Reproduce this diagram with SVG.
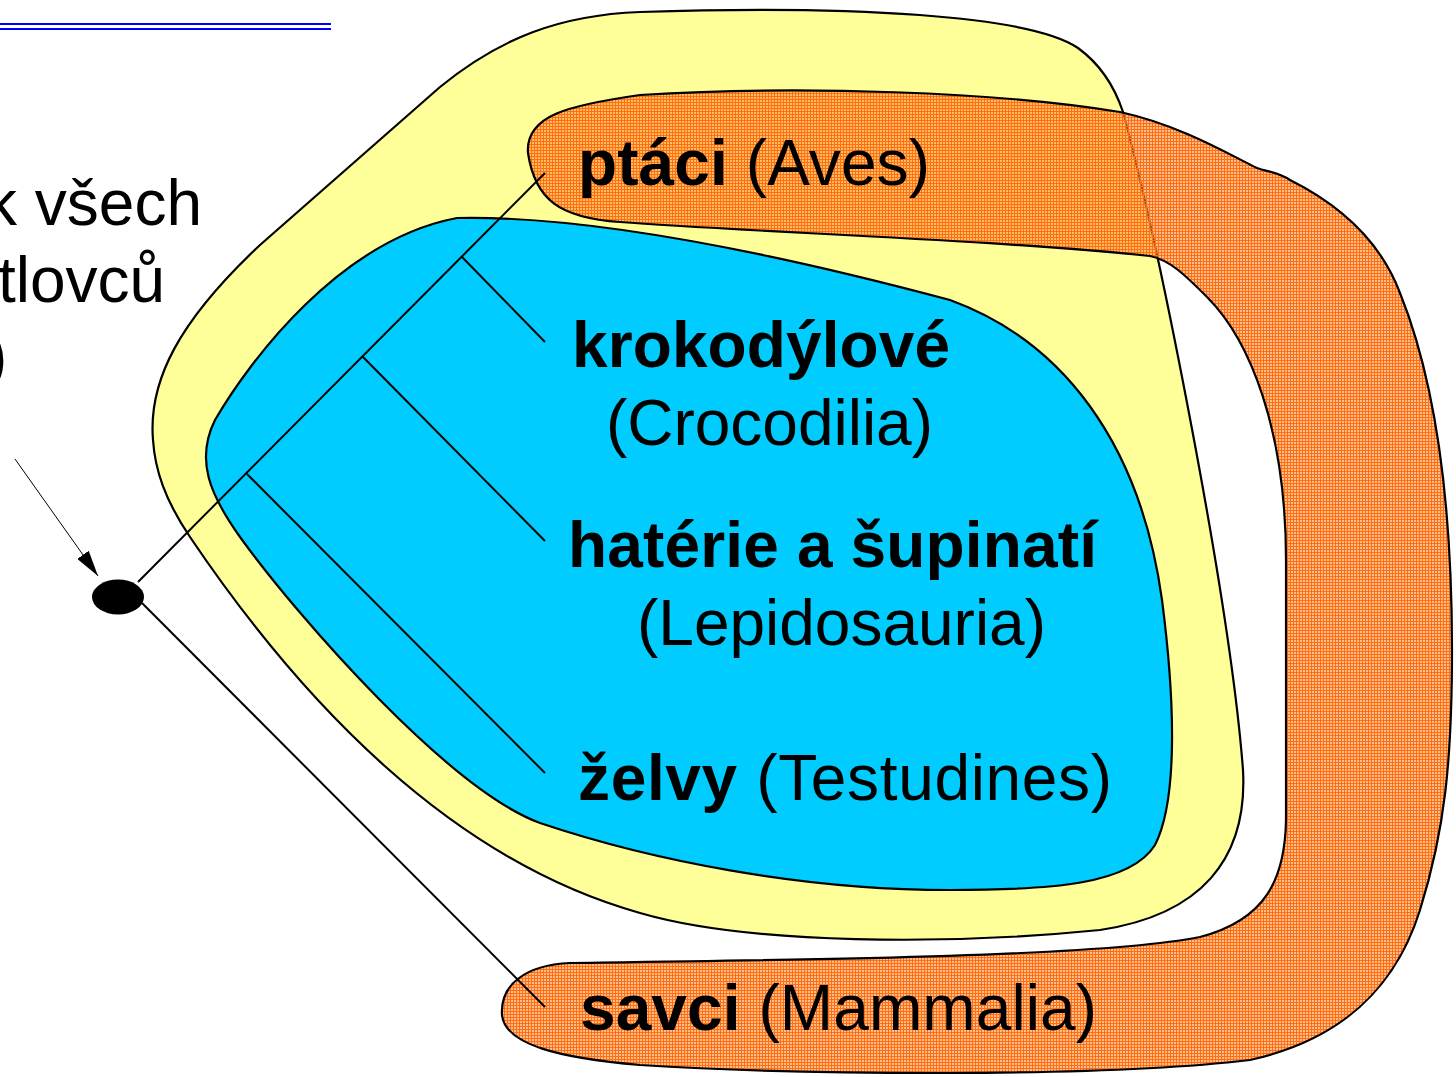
<svg xmlns="http://www.w3.org/2000/svg" width="1456" height="1077" viewBox="0 0 1456 1077">
<style>
  .reg { stroke: #000; stroke-width: 2.2; stroke-linejoin: round; }
  .ln { stroke: #000; stroke-width: 2; fill: none; }
  .thin { stroke: #000; stroke-width: 1; fill: none; }
  text { font-family: "Liberation Sans", Arial, sans-serif; font-size: 64px; fill: #000; }
  .b { font-weight: bold; }
</style>
<defs>
  <pattern id="hatch" width="3" height="3" patternUnits="userSpaceOnUse">
    <rect width="3" height="1" fill="#FF6E10"/>
    <rect width="1" height="3" fill="#FF6E10"/>
    <rect x="1" y="1" width="2" height="2" fill="#FF9040" fill-opacity="0.6"/>
  </pattern>
  <marker id="arr" markerWidth="26" markerHeight="14" refX="26" refY="7" orient="auto" markerUnits="userSpaceOnUse">
    <path d="M0,0 L26,7 L0,14 Z" fill="#000"/>
  </marker>
</defs>

<g id="title-underline">
  <line x1="0" y1="24" x2="331" y2="24" stroke="#0000FF" stroke-width="2"/>
  <line x1="0" y1="29" x2="331" y2="29" stroke="#0000FF" stroke-width="2"/>
</g>

<g id="left-label">
  <text x="-15" y="225">k všech</text>
  <text x="-2" y="302">tlovců</text>
  <text x="-14" y="378">)</text>
</g>

<g id="region-yellow">
  <path class="reg" fill="#FFFF99" d="M153,440 C148,380 180,320 260,245 L440,87 C500,38 560,15 640,12 C850,5 1030,15 1078,48 C1100,64 1114,85 1123,112 C1160,250 1230,600 1243,770 C1248,860 1200,915 1100,930 C950,945 750,945 640,913 C450,860 300,700 190,537 C165,500 155,470 153,440 Z"/>
</g>

<g id="region-blue">
  <path class="reg" fill="#00CCFF" d="M457,218 C600,215 800,260 950,300 C1060,340 1140,440 1162,600 C1175,700 1178,800 1155,845 C1130,885 1050,890 950,890 C800,890 650,860 540,823 C450,790 300,620 240,537 C210,495 195,460 215,420 C250,360 340,240 457,218 Z"/>
</g>

<g id="region-orange">
  <path class="reg" fill="url(#hatch)" d="M528,153 C525,115 570,105 640,95 C800,85 1000,92 1120,112 C1180,125 1230,155 1257,168 C1268,172 1278,172 1290,180 C1340,205 1380,240 1400,293 C1435,380 1452,500 1452,650 C1452,760 1445,830 1420,910 C1395,990 1340,1040 1250,1060 C1100,1078 800,1075 640,1065 C560,1058 505,1045 502,1015 C500,985 525,965 570,963 C800,960 1100,957 1200,937 C1265,920 1285,880 1286,820 L1286,560 C1286,430 1250,340 1207,297 C1185,275 1170,260 1150,256 C1000,240 750,232 620,222 C560,218 535,200 528,153 Z"/>
</g>

<g id="connectors">
  <line class="ln" x1="545" y1="173" x2="138" y2="582"/>
  <line class="ln" x1="462" y1="257" x2="545" y2="342"/>
  <line class="ln" x1="363" y1="357" x2="545" y2="541"/>
  <line class="ln" x1="247" y1="474" x2="545" y2="773"/>
  <line class="ln" x1="142" y1="603" x2="545" y2="1007"/>
  <line class="thin" x1="15" y1="459" x2="98" y2="576" marker-end="url(#arr)"/>
</g>

<g id="root-node">
  <ellipse cx="118" cy="597" rx="26" ry="17.5" fill="#000"/>
</g>

<g id="label-aves">
  <text x="578" y="185" textLength="352"><tspan class="b">ptáci</tspan> (Aves)</text>
</g>
<g id="label-crocodilia">
  <text x="572" y="367" class="b" textLength="378">krokodýlové</text>
  <text x="606" y="445" textLength="327">(Crocodilia)</text>
</g>
<g id="label-lepidosauria">
  <text x="568" y="567" class="b" textLength="529">hatérie a šupinatí</text>
  <text x="637" y="645" textLength="409">(Lepidosauria)</text>
</g>
<g id="label-testudines">
  <text x="578" y="800" textLength="534"><tspan class="b">želvy</tspan> (Testudines)</text>
</g>
<g id="label-mammalia">
  <text x="580" y="1030" textLength="517"><tspan class="b">savci</tspan> (Mammalia)</text>
</g>
</svg>
